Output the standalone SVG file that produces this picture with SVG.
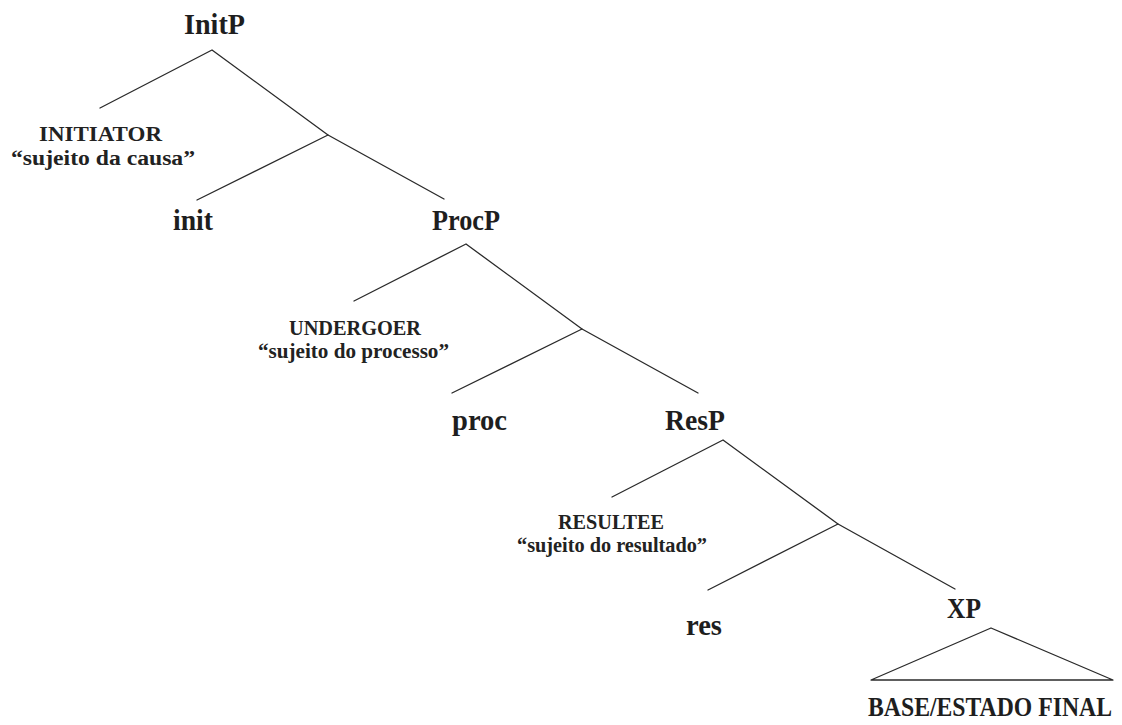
<svg xmlns="http://www.w3.org/2000/svg" width="1122" height="725" viewBox="0 0 1122 725">
  <style>
    .bg { fill: #ffffff; }
    .edge { stroke: #2a2a2a; stroke-width: 1.3; fill: none; stroke-linecap: round; stroke-linejoin: round; }
    .cat { font-family: "Liberation Serif", "Times New Roman", serif; font-weight: bold; font-size: 29px; fill: #1e1e1e; }
    .base { font-size: 28px; }
    .role { font-family: "Liberation Serif", "Times New Roman", serif; font-weight: bold; font-size: 20px; fill: #222222; }
  </style>
  <rect class="bg" x="0" y="0" width="1122" height="725"/>

  <!-- branches of the tree -->
  <g id="connectors">
    <!-- InitP -->
    <polyline class="edge" points="100,108 212,50 328,135 444,199"/>
    <line class="edge" x1="328" y1="135" x2="197" y2="200"/>
    <!-- ProcP -->
    <polyline class="edge" points="354,301 466,244 582,329 698,393"/>
    <line class="edge" x1="582" y1="329" x2="452" y2="393"/>
    <!-- ResP -->
    <polyline class="edge" points="612,497 723,440 838,524 955,589"/>
    <line class="edge" x1="838" y1="524" x2="708" y2="590"/>
    <!-- XP triangle -->
    <polygon class="edge" points="991,628 871,680 1113,680"/>
  </g>

  <g id="node-initp">
    <text class="cat" x="184" y="34" textLength="61" lengthAdjust="spacingAndGlyphs">InitP</text>
  </g>
  <g id="node-initiator">
    <text class="role" x="39" y="141" textLength="123" lengthAdjust="spacingAndGlyphs">INITIATOR</text>
    <text class="role" x="11" y="165" textLength="184" lengthAdjust="spacingAndGlyphs">“sujeito da causa”</text>
  </g>
  <g id="node-init">
    <text class="cat" x="173" y="230" textLength="40" lengthAdjust="spacingAndGlyphs">init</text>
  </g>
  <g id="node-procp">
    <text class="cat" x="432" y="230" textLength="68" lengthAdjust="spacingAndGlyphs">ProcP</text>
  </g>
  <g id="node-undergoer">
    <text class="role" x="289" y="335" textLength="132" lengthAdjust="spacingAndGlyphs">UNDERGOER</text>
    <text class="role" x="258" y="358" textLength="191" lengthAdjust="spacingAndGlyphs">“sujeito do processo”</text>
  </g>
  <g id="node-proc">
    <text class="cat" x="452" y="430" textLength="55" lengthAdjust="spacingAndGlyphs">proc</text>
  </g>
  <g id="node-resp">
    <text class="cat" x="665" y="430" textLength="60" lengthAdjust="spacingAndGlyphs">ResP</text>
  </g>
  <g id="node-resultee">
    <text class="role" x="558" y="529" textLength="106" lengthAdjust="spacingAndGlyphs">RESULTEE</text>
    <text class="role" x="517" y="552" textLength="190" lengthAdjust="spacingAndGlyphs">“sujeito do resultado”</text>
  </g>
  <g id="node-res">
    <text class="cat" x="686" y="635" textLength="36" lengthAdjust="spacingAndGlyphs">res</text>
  </g>
  <g id="node-xp">
    <text class="cat" x="947" y="618" textLength="34" lengthAdjust="spacingAndGlyphs">XP</text>
  </g>
  <g id="node-base">
    <text class="cat base" x="868" y="716" textLength="244" lengthAdjust="spacingAndGlyphs">BASE/ESTADO FINAL</text>
  </g>
</svg>
